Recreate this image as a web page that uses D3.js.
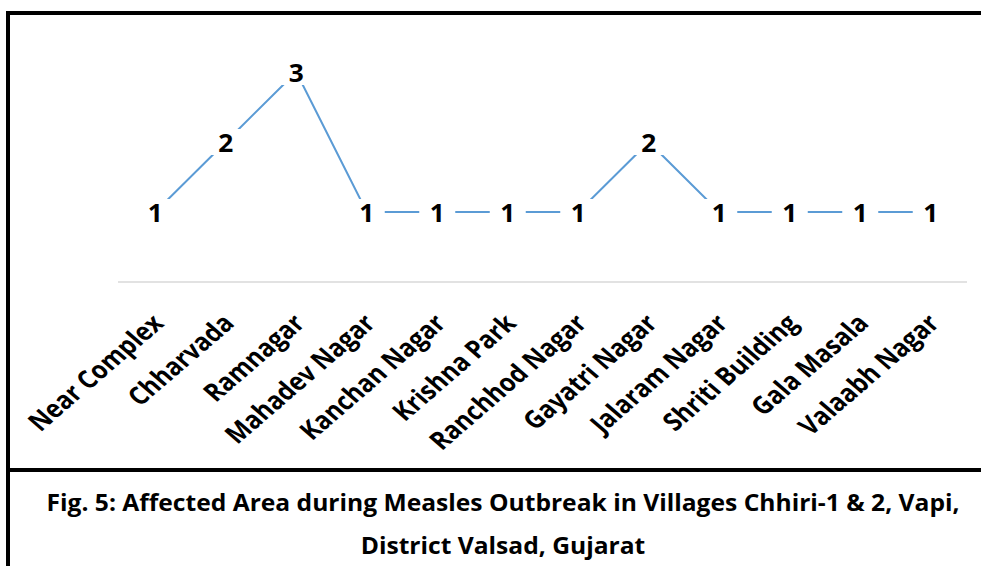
<!DOCTYPE html>
<html>
<head>
<meta charset="utf-8">
<script src="https://cdn.jsdelivr.net/npm/d3@7"></script>
<style>
  html, body { margin: 0; padding: 0; background: #fff; }
  svg { display: block; }
</style>
</head>
<body>
<svg id="chart" width="981" height="566"></svg>
<script>
// Affected areas (localities) and number of measles cases in each
const areas = ["Near Complex", "Chharvada", "Ramnagar", "Mahadev Nagar", "Kanchan Nagar",
  "Krishna Park", "Ranchhod Nagar", "Gayatri Nagar", "Jalaram Nagar", "Shriti Building",
  "Gala Masala", "Valaabh Nagar"];
const cases = [1, 2, 3, 1, 1, 1, 1, 2, 1, 1, 1, 1];
const captionLines = [
  "Fig. 5: Affected Area during Measles Outbreak in Villages Chhiri-1 & 2, Vapi,",
  "District Valsad, Gujarat"
];

const FONT = "'Open Sans', 'DejaVu Sans', sans-serif";
const LINE_COLOR = "#5b9bd5";
const svg = d3.select("#chart");

// Outer frame and caption separator
svg.append("rect")
  .attr("x", 8).attr("y", 13).attr("width", 1000).attr("height", 600)
  .attr("fill", "#fff").attr("stroke", "#000").attr("stroke-width", 4);
svg.append("line")
  .attr("x1", 8).attr("x2", 981).attr("y1", 470).attr("y2", 470)
  .attr("stroke", "#000").attr("stroke-width", 4);

// Scales
const x = d3.scaleBand().domain(areas).range([120, 966]).padding(0);
const y = d3.scaleLinear().domain([0, 3]).range([282, 72]);
const cx = d => x(d) + x.bandwidth() / 2;

// Category axis baseline
svg.append("line")
  .attr("x1", x.range()[0] - 2).attr("x2", x.range()[1] + 1)
  .attr("y1", y(0)).attr("y2", y(0))
  .attr("stroke", "#d9d9d9").attr("stroke-width", 1.5);

const pts = areas.map((a, i) => ({ area: a, v: cases[i] }));

// Case line
svg.append("path")
  .datum(pts)
  .attr("fill", "none")
  .attr("stroke", LINE_COLOR)
  .attr("stroke-width", 2)
  .attr("d", d3.line().x(d => cx(d.area)).y(d => y(d.v)));

// Value labels with white boxes masking the line
const lab = svg.append("g");
lab.selectAll("rect").data(pts).join("rect")
  .attr("x", d => cx(d.area) - 18).attr("y", d => y(d.v) - 13)
  .attr("width", 36).attr("height", 26).attr("fill", "#fff");
lab.selectAll("text").data(pts).join("text")
  .attr("transform", d => `translate(${cx(d.area)},${y(d.v) + 1}) scale(1.05,1)`)
  .attr("text-anchor", "middle")
  .attr("dominant-baseline", "central")
  .attr("font-family", FONT).attr("font-weight", 700).attr("font-size", 25)
  .attr("fill", "#000")
  .text(d => d.v);

// Rotated category labels, condensed to a common width ratio
const catTexts = svg.append("g").selectAll("text").data(areas).join("text")
  .attr("transform", d => `translate(${cx(d) + 2},${y(0) + 36}) scale(1.16,1) rotate(-45)`)
  .attr("text-anchor", "end")
  .attr("dominant-baseline", "central")
  .attr("font-family", FONT).attr("font-weight", 700).attr("font-size", 25)
  .attr("fill", "#000")
  .text(d => d);
const catLen = catTexts.nodes().map(n => n.getComputedTextLength());
const catSqueeze = 170 / catLen[areas.indexOf("Mahadev Nagar")];
catTexts
  .attr("textLength", (d, i) => catLen[i] * catSqueeze)
  .attr("lengthAdjust", "spacingAndGlyphs");

// Caption
const capTexts = svg.append("g").selectAll("text").data(captionLines).join("text")
  .attr("x", 503)
  .attr("y", (d, i) => 511 + i * 43)
  .attr("text-anchor", "middle")
  .attr("font-family", FONT).attr("font-weight", 700).attr("font-size", 24)
  .attr("fill", "#000")
  .text(d => d);
const natural = capTexts.nodes().map(n => n.getComputedTextLength());
const squeeze = 913 / natural[0];
capTexts
  .attr("textLength", (d, i) => natural[i] * squeeze)
  .attr("lengthAdjust", "spacingAndGlyphs");
</script>
</body>
</html>
